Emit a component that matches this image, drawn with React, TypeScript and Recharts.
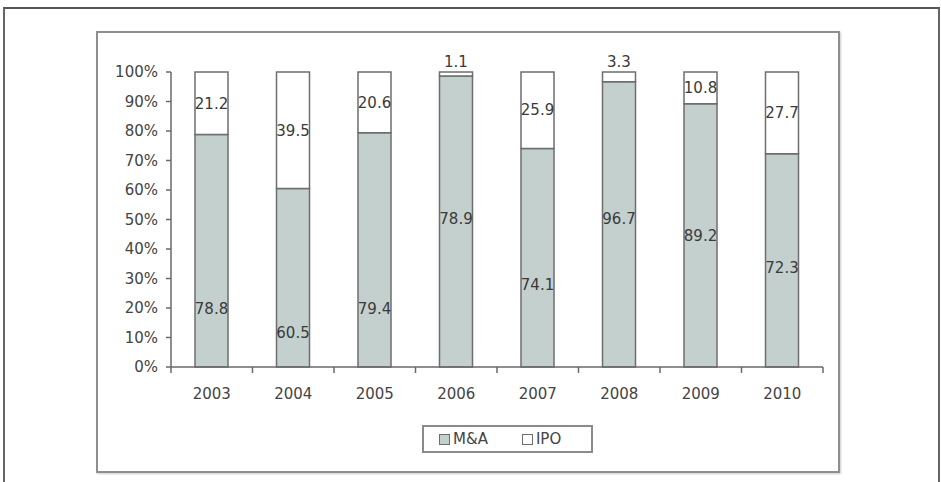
import React from 'react';
import { BarChart, Bar, XAxis, YAxis, Legend, LabelList } from 'recharts';

const years = ['2003', '2004', '2005', '2006', '2007', '2008', '2009', '2010'];
const maValues = [78.8, 60.5, 79.4, 78.9, 74.1, 96.7, 89.2, 72.3];
const ipoValues = [21.2, 39.5, 20.6, 1.1, 25.9, 3.3, 10.8, 27.7];
const yTicks = [0, 0.1, 0.2, 0.3, 0.4, 0.5, 0.6, 0.7, 0.8, 0.9, 1];

// label placement along the M&A segment (0 = bottom, 1 = top), as in the original
const maLabelAnchor = [0.25, 0.19, 0.25, 0.51, 0.375, 0.52, 0.5, 0.465];

const data = years.map((y, i) => ({ year: y, ma: maValues[i], ipo: ipoValues[i] }));

const FONT = 'DejaVu Sans, sans-serif';
const MA_FILL = '#c4d0ce';
const BAR_STROKE = '#6e6e6e';
const AXIS = '#6a6a6a';

const MaLabel = (props: any) => {
  const { x, y, width, height, value, index } = props;
  const cy = y + height * (1 - maLabelAnchor[index]);
  return (
    <text x={x + width / 2} y={cy} dy="0.35em" textAnchor="middle" fontSize={15} fontFamily={FONT} fill="#3a3a3a">
      {value}
    </text>
  );
};

const IpoLabel = (props: any) => {
  const { x, y, width, height, value } = props;
  const small = height < 15;
  const cy = small ? y - 10 : y + height / 2;
  return (
    <text x={x + width / 2} y={cy} dy="0.35em" textAnchor="middle" fontSize={15} fontFamily={FONT} fill="#3a3a3a">
      {value}
    </text>
  );
};

// Category tick: label at band centre, tick marks at band boundaries (Excel style)
const YearTick = (props: any) => {
  const { x, y, payload, index, width, visibleTicksCount } = props;
  const half = width / (visibleTicksCount || 8) / 2;
  const isLast = index === (visibleTicksCount || 8) - 1;
  return (
    <g>
      <line x1={x - half} x2={x - half} y1={y} y2={y + 6} stroke={AXIS} strokeWidth={1.5} />
      {isLast && <line x1={x + half} x2={x + half} y1={y} y2={y + 6} stroke={AXIS} strokeWidth={1.5} />}
      <text x={x} y={y + 21} dy="0.71em" textAnchor="middle" fontSize={15} fontFamily={FONT} fill="#444">
        {payload.value}
      </text>
    </g>
  );
};

const LegendBox = () => (
  <div
    style={{
      boxSizing: 'border-box',
      width: 171,
      height: 28,
      border: '2px solid #8a8a8a',
      display: 'flex',
      alignItems: 'center',
      fontFamily: FONT,
      fontSize: 15,
      color: '#444',
    }}
  >
    <span style={{ display: 'inline-block', width: 11, height: 11, background: MA_FILL, border: '1px solid #6e6e6e', marginLeft: 15, marginRight: 3, boxSizing: 'border-box' }} />
    <span>M&amp;A</span>
    <span style={{ display: 'inline-block', width: 11, height: 11, background: '#fff', border: '1px solid #6e6e6e', marginLeft: 34, marginRight: 3, boxSizing: 'border-box' }} />
    <span>IPO</span>
  </div>
);

export default function App() {
  return (
    <div style={{ position: 'absolute', left: 0, top: 0, width: 941, height: 482, background: '#fff', overflow: 'hidden' }}>
      <div style={{ position: 'absolute', left: 3, top: 7, width: 937, height: 490, borderTop: '2px solid #555', borderLeft: '2px solid #666', borderRight: '2px solid #666', boxSizing: 'border-box' }} />
      <div style={{ position: 'absolute', left: 96, top: 31, width: 744, height: 442, border: '2px solid #8e8e8e', boxSizing: 'border-box', boxShadow: '1px 1px 2px #ccc' }} />
      <div style={{ position: 'absolute', left: 0, top: 0 }}>
        <BarChart
          width={941}
          height={482}
          data={data}
          stackOffset="expand"
          margin={{ top: 72, right: 118, bottom: 57, left: 111 }}
          barCategoryGap={0}
        >
          <XAxis
            dataKey="year"
            height={30}
            axisLine={{ stroke: AXIS, strokeWidth: 1.5 }}
            tickLine={false}
            tickSize={0}
            tickMargin={0}
            tick={YearTick}
            interval={0}
          />
          <YAxis
            width={60}
            domain={[0, 1]}
            ticks={yTicks}
            tickFormatter={(v: number) => `${Math.round(v * 100)}%`}
            tickSize={5}
            tickMargin={8}
            axisLine={{ stroke: AXIS, strokeWidth: 1.5 }}
            tickLine={{ stroke: AXIS, strokeWidth: 1.5 }}
            tick={{ fontSize: 15, fontFamily: FONT, fill: '#444' }}
            interval={0}
          />
          <Legend
            verticalAlign="bottom"
            align="left"
            content={() => <LegendBox />}
            wrapperStyle={{ position: 'absolute', left: 422, top: 425, width: 171, height: 28 }}
          />
          <Bar dataKey="ma" name="M&A" stackId="s" fill={MA_FILL} stroke={BAR_STROKE} strokeWidth={1.5} barSize={33} isAnimationActive={false}>
            <LabelList dataKey="ma" content={MaLabel} />
          </Bar>
          <Bar dataKey="ipo" name="IPO" stackId="s" fill="#ffffff" stroke={BAR_STROKE} strokeWidth={1.5} barSize={33} isAnimationActive={false}>
            <LabelList dataKey="ipo" content={IpoLabel} />
          </Bar>
        </BarChart>
      </div>
    </div>
  );
}
